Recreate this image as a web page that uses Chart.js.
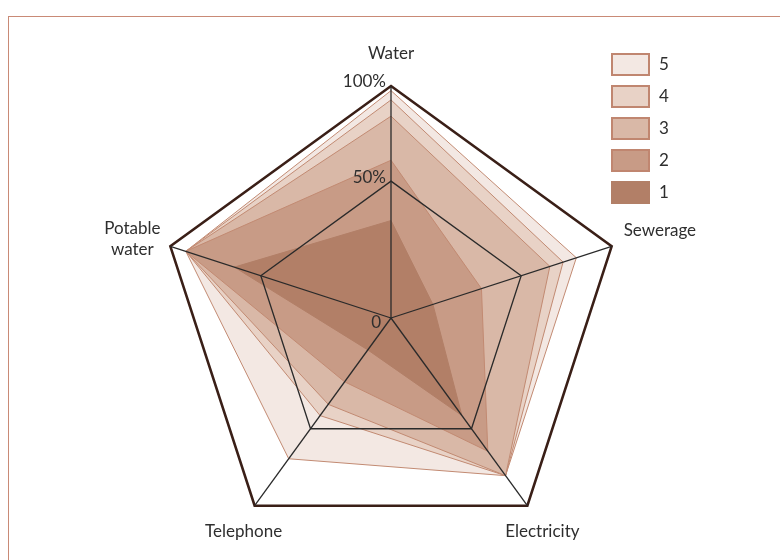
<!DOCTYPE html>
<html lang="en">
<head>
<meta charset="UTF-8">
<title>Services radar</title>
<script src="https://cdn.jsdelivr.net/npm/chart.js"></script>
<style>
    body { margin: 0; background: #fff; }
    .wrap { position: relative; width: 780px; height: 560px; overflow: hidden; }
    /* thin brown frame round the figure */
    .frame {
        position: absolute; left: 8px; top: 16px; width: 820px; height: 600px;
        border-top: 1.5px solid #c98a76; border-left: 1.5px solid #c98a76;
    }
    #radar { position: absolute; left: 0; top: 0; }
</style>
</head>
<body>
<div class="wrap">
    <div class="frame"></div>
    <canvas id="radar" width="780" height="560"></canvas>
</div>

<script>
// axes, clockwise from the top
const categories = ['Water', 'Sewerage', 'Electricity', 'Telephone', ['Potable', 'water']];

// series values (share of full scale)
const series1 = [42, 19, 52, 17, 71];
const series2 = [68, 41, 71, 34, 93];
const series3 = [87, 72, 84, 46, 93];
const series4 = [94, 78, 84, 52, 93];
const series5 = [98, 84, 84, 75, 93];

const seriesNames = ['1', '2', '3', '4', '5'];
const fills = ['#b27f67', '#c89b86', '#d9b8a7', '#e8d2c6', '#f3e8e3'];

// radial ticks: the inner ring sits a bit past half way in the original drawing
const tickValues = [0, 59, 100];
const tickLabels = ['0', '50%', '100%'];

const font = "Lato, 'Open Sans', sans-serif";

// axis names, tick labels and legend drawn next to the scale
const labelsPlugin = {
    id: 'labels',
    afterDraw(chart) {
        const ctx = chart.ctx;
        const r = chart.scales.r;
        ctx.save();
        ctx.fillStyle = '#2e2e2e';
        ctx.font = '17px ' + font;
        ctx.textBaseline = 'middle';

        // axis names
        const offs = [[0, -32, 'center'], [12, -16, 'left'], [15, 26, 'center'], [-11, 26, 'center'], [-38, -18, 'center']];
        categories.forEach((c, i) => {
            const p = r.getPointPositionForValue(i, 100);
            const [dx, dy, al] = offs[i];
            ctx.textAlign = al;
            const lines = Array.isArray(c) ? c : [c];
            lines.forEach((t, k) => ctx.fillText(t, p.x + dx, p.y + dy + k * 21));
        });

        // tick labels on the top spoke ("0" sits just below the centre)
        ctx.textAlign = 'right';
        tickValues.forEach((v, i) => {
            const d = r.getDistanceFromCenterForValue(v);
            const dx = i === 0 ? -10 : -5;
            const dy = i === 0 ? 5 : -4;
            ctx.fillText(tickLabels[i], r.xCenter + dx, r.yCenter - d + dy);
        });

        // legend, largest series first
        ctx.textAlign = 'left';
        const ds = chart.data.datasets.slice().reverse();
        ds.forEach((d, i) => {
            const y = 53 + i * 32;
            ctx.fillStyle = d.backgroundColor;
            ctx.fillRect(611, y, 39, 23);
            if (i < ds.length - 1) {
                ctx.strokeStyle = '#c08670';
                ctx.lineWidth = 2;
                ctx.strokeRect(612, y + 1, 37, 21);
            }
            ctx.fillStyle = '#2e2e2e';
            ctx.fillText(d.label, 659, y + 12);
        });
        ctx.restore();
    }
};

const allSeries = [series1, series2, series3, series4, series5];

new Chart(document.getElementById('radar'), {
    type: 'radar',
    data: {
        labels: categories,
        datasets: allSeries.map((vals, i) => ({
            label: seriesNames[i],
            data: vals,
            fill: true,
            backgroundColor: fills[i],
            borderColor: i === 0 ? fills[0] : '#c28a72',
            borderWidth: 1,
            pointRadius: 0,
            tension: 0
        }))
    },
    options: {
        responsive: false,
        animation: false,
        layout: { padding: { left: 159, right: 157, top: 86, bottom: 10 } },
        plugins: {
            legend: { display: false },
            tooltip: { enabled: false }
        },
        scales: {
            r: {
                min: 0,
                max: 100,
                z: 1,
                afterBuildTicks(scale) {
                    scale.ticks = tickValues.map(v => ({ value: v }));
                },
                ticks: { display: false },
                pointLabels: { display: false },
                grid: {
                    z: 1,
                    color: ctx => ctx.tick && ctx.tick.value === 100 ? '#3a1f17' : '#2a2a2a',
                    lineWidth: ctx => ctx.tick && ctx.tick.value === 100 ? 2.6 : 1.3
                },
                angleLines: { color: '#2a2a2a', lineWidth: 1.3 }
            }
        }
    },
    plugins: [labelsPlugin]
});
</script>
</body>
</html>
